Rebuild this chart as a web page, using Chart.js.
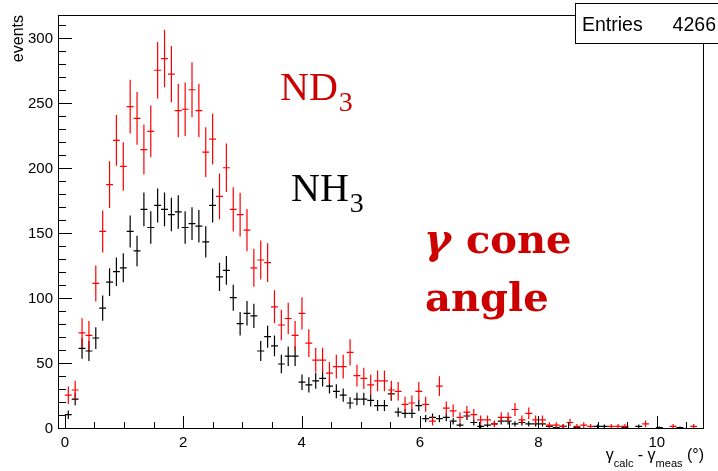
<!DOCTYPE html>
<html>
<head>
<meta charset="utf-8">
<script src="https://cdn.jsdelivr.net/npm/chart.js@4.4.1/dist/chart.umd.min.js"></script>
<style>
  html, body { margin: 0; padding: 0; background: #ffffff; }
  #c { display: block; }
</style>
</head>
<body>
<canvas id="c" width="718" height="471"></canvas>
<script>
// Histogram binning (degrees)
const binLowEdge = -0.116;
const binWidth = 0.1161;

// Bin contents, one entry per bin
const nh3Counts = [0,11,23,62,60,70,93,113,121,124,
  152,137,169,155,172,169,165,167,155,158,
  156,144,172,117,122,101,81,89,87,60,
  71,64,50,56,56,36,34,37,39,33,
  29,26,20,23,23,22,18,18,27,13,
  12,12,18,8,9,8,9,6,3,10,
  5,2,3,4,6,6,4,5,4,4,
  4,2,1,2,0,1,0,0,2,2,
  0,0,1,0,2,0,0,1,0,0,
  1,0,0,0];
const nd3Counts = [0,26,30,74,72,112,152,188,222,202,
  248,239,215,229,276,285,273,245,246,261,
  245,213,223,179,201,169,165,153,124,130,
  128,94,80,85,72,89,66,53,53,43,
  48,48,59,41,39,34,37,37,30,29,
  19,20,29,19,6,33,16,14,9,13,
  11,7,7,4,9,9,15,7,12,7,
  7,3,3,2,5,2,3,2,0,0,
  2,2,2,0,0,4,0,0,0,2,
  0,0,2,0];

// Event weights: the ND3 sample is normalised, so its errors are sqrt(N * w)
const nh3Weight = 1.0;
const nd3Weight = 1.72;

// Axis tick labels
const xTickValues = [0, 2, 4, 6, 8, 10];
const yTickValues = [0, 50, 100, 150, 200, 250, 300];
const entriesLabel = 'Entries';
const entriesValue = '4266';

const xMax = binLowEdge + nh3Counts.length * binWidth;
const binCenters = nh3Counts.map((_, i) => binLowEdge + (i + 0.5) * binWidth);
const toPoints = counts => counts.map((v, i) => ({ x: binCenters[i], y: v }));

const SANS = '"Liberation Sans", Arial, Helvetica, sans-serif';

// Error bars: horizontal bar across the bin, vertical +/- sqrt(N * w)
const errorBarPlugin = {
  id: 'errorBars',
  afterDatasetsDraw(chart) {
    const { ctx, scales: { x, y }, chartArea } = chart;
    ctx.save();
    ctx.beginPath();
    ctx.rect(chartArea.left, chartArea.top, chartArea.right - chartArea.left, chartArea.bottom - chartArea.top);
    ctx.clip();
    chart.data.datasets.forEach((ds, di) => {
      const meta = chart.getDatasetMeta(di);
      ctx.strokeStyle = ds.borderColor;
      ctx.lineWidth = 1.2;
      meta.data.forEach((el, i) => {
        const pt = ds.data[i];
        if (!pt || pt.y <= 0) return;
        const err = Math.sqrt(pt.y * ds.weight);
        const xl = x.getPixelForValue(pt.x - binWidth / 2);
        const xr = x.getPixelForValue(pt.x + binWidth / 2);
        const yt = y.getPixelForValue(pt.y + err);
        const yb = y.getPixelForValue(Math.max(0, pt.y - err));
        ctx.beginPath();
        ctx.moveTo(xl, el.y);
        ctx.lineTo(xr, el.y);
        ctx.moveTo(el.x, yt);
        ctx.lineTo(el.x, yb);
        ctx.stroke();
      });
    });
    ctx.restore();
  }
};

// Frame, inward ticks, annotations and statistics box
const decorPlugin = {
  id: 'decor',
  afterDraw(chart) {
    const { ctx, scales: { x, y }, chartArea: a } = chart;
    ctx.save();
    ctx.strokeStyle = '#000';
    ctx.lineWidth = 1;
    ctx.strokeRect(Math.round(a.left) + 0.5, Math.round(a.top) + 0.5,
      Math.round(a.right - a.left) - 1, Math.round(a.bottom - a.top) - 1);

    // y ticks (inside the frame)
    ctx.beginPath();
    for (let v = 0; v <= y.max; v += 10) {
      const py = Math.round(y.getPixelForValue(v)) - 0.5;
      const len = v % 50 === 0 ? 14 : 8;
      ctx.moveTo(a.left, py);
      ctx.lineTo(a.left + len, py);
    }
    // x ticks (inside the frame)
    for (let k = 0; k * 0.5 <= x.max; k++) {
      const v = k * 0.5;
      const px = Math.round(x.getPixelForValue(v)) + 0.5;
      const len = k % 4 === 0 ? 13 : 7;
      ctx.moveTo(px, a.bottom);
      ctx.lineTo(px, a.bottom - len);
    }
    ctx.stroke();

    // y-axis title
    ctx.save();
    ctx.translate(23, 15);
    ctx.rotate(-Math.PI / 2);
    ctx.fillStyle = '#000';
    ctx.font = '16px ' + SANS;
    ctx.textAlign = 'right';
    ctx.textBaseline = 'alphabetic';
    ctx.fillText('events', 0, 0);
    ctx.restore();

    // x-axis title: γ_calc - γ_meas (°)
    ctx.fillStyle = '#000';
    ctx.textAlign = 'left';
    ctx.textBaseline = 'alphabetic';
    const parts = [
      ['γ', 16, 0], ['calc', 11, 7], [' - ', 16, 0], ['γ', 16, 0], ['meas', 11, 7], [' (°)', 16, 0]
    ];
    let tw = 0;
    parts.forEach(p => { ctx.font = p[1] + 'px ' + SANS; tw += ctx.measureText(p[0]).width; });
    let tx = a.right - tw;
    parts.forEach(p => {
      ctx.font = p[1] + 'px ' + SANS;
      ctx.fillText(p[0], tx, 460 + p[2]);
      tx += ctx.measureText(p[0]).width;
    });

    // sample labels
    const SERIF = '"Liberation Serif", "Times New Roman", serif';
    const subLabel = (main, sub, px, py, color) => {
      ctx.fillStyle = color;
      ctx.font = '40px ' + SERIF;
      ctx.fillText(main, px, py);
      const w = ctx.measureText(main).width;
      ctx.font = '28px ' + SERIF;
      ctx.fillText(sub, px + w + 1, py + 11);
    };
    subLabel('ND', '3', 280, 100, '#cc0000');
    subLabel('NH', '3', 291, 201, '#000000');

    // plot title inside the frame
    ctx.fillStyle = '#cc0000';
    ctx.font = 'italic bold 41px "DejaVu Serif", serif';
    ctx.fillText('γ', 424, 253);
    ctx.font = 'bold 40px "DejaVu Serif", serif';
    ctx.fillText('cone', 466, 253);
    ctx.fillText('angle', 425, 311);

    // statistics box
    ctx.fillStyle = '#ffffff';
    ctx.fillRect(575.5, 3.5, 150, 40);
    ctx.strokeStyle = '#000';
    ctx.lineWidth = 1;
    ctx.strokeRect(575.5, 3.5, 150, 40);
    ctx.fillStyle = '#000';
    ctx.font = '19.5px ' + SANS;
    ctx.textAlign = 'left';
    ctx.fillText(entriesLabel, 582, 31);
    ctx.textAlign = 'right';
    ctx.fillText(entriesValue, 716, 31);
    ctx.restore();
  }
};

new Chart(document.getElementById('c'), {
  type: 'scatter',
  data: {
    datasets: [
      { label: 'NH3', data: toPoints(nh3Counts), weight: nh3Weight, borderColor: '#000000', backgroundColor: '#000000', pointRadius: 0, showLine: false },
      { label: 'ND3', data: toPoints(nd3Counts), weight: nd3Weight, borderColor: '#ff0000', backgroundColor: '#ff0000', pointRadius: 0, showLine: false }
    ]
  },
  options: {
    responsive: false,
    animation: false,
    devicePixelRatio: 1,
    layout: { padding: { top: 15, right: 14, left: 0, bottom: 0 } },
    plugins: { legend: { display: false }, tooltip: { enabled: false } },
    scales: {
      x: {
        type: 'linear',
        min: binLowEdge,
        max: xMax,
        grid: { display: false, drawTicks: false },
        border: { display: false },
        afterBuildTicks: s => { s.ticks = xTickValues.map(v => ({ value: v })); },
        afterFit: s => { s.height = 42; },
        ticks: { padding: 5, color: '#000', font: { family: SANS, size: 15 }, maxRotation: 0 }
      },
      y: {
        type: 'linear',
        min: 0,
        max: 318.5,
        grid: { display: false, drawTicks: false },
        border: { display: false },
        afterBuildTicks: s => { s.ticks = yTickValues.map(v => ({ value: v })); },
        afterFit: s => { s.width = 58; },
        ticks: { padding: 5, color: '#000', font: { family: SANS, size: 15 } }
      }
    }
  },
  plugins: [errorBarPlugin, decorPlugin]
});
</script>
</body>
</html>
